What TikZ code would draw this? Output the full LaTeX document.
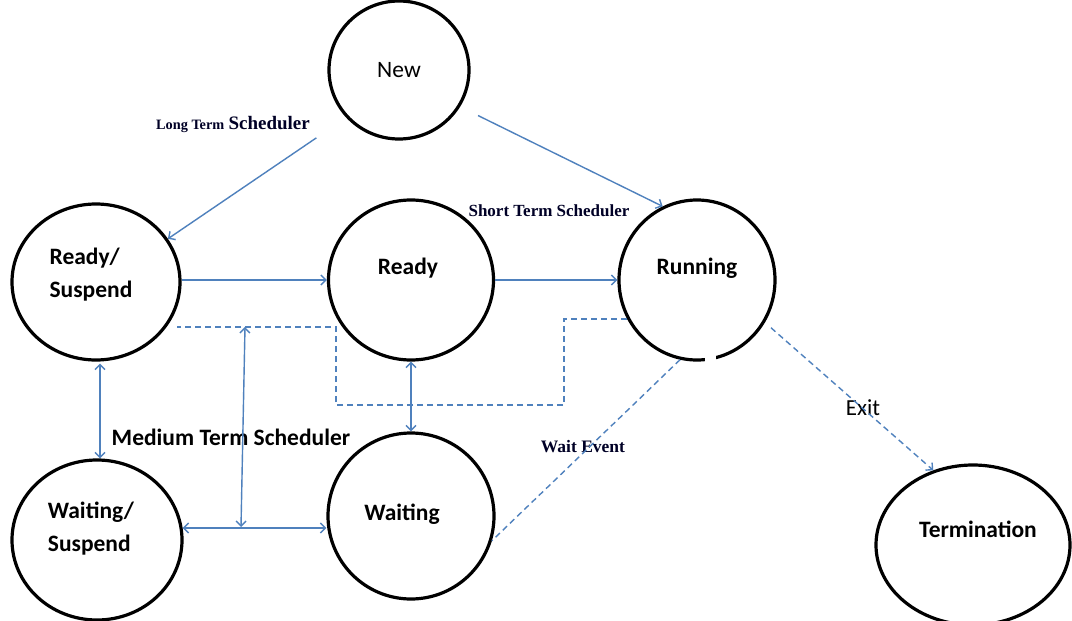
\documentclass[tikz,border=0pt]{standalone}
\usepackage{fontspec}
\setmainfont{Liberation Serif}
\newfontfamily\carl{Carlito}
\usetikzlibrary{shapes.geometric,arrows.meta}
\definecolor{lineblue}{HTML}{4F81BD}
\begin{document}
\begin{tikzpicture}[x=1pt,y=-1pt,
  >={Straight Barb[length=5pt,width=10pt]},
  state/.style={ellipse,draw=black,line width=3.2pt,inner sep=0pt},
  stext/.style={font=\carl\bfseries\fontsize{23.5}{33}\selectfont,align=left},
  conn/.style={draw=lineblue,line width=1.4pt},
  dline/.style={conn,dash pattern=on 6pt off 4pt},
  serifl/.style={font=\bfseries\fontsize{17}{20}\selectfont,text=black!85!blue},
]
\useasboundingbox (0,0) rectangle (1072,621);
\fill[white] (0,0) rectangle (1072,621);
\clip (0,0) rectangle (1072,621);

% states
\node[state,minimum width=140pt,minimum height=138pt,
  label={[font=\carl\fontsize{23.5}{28}\selectfont]center:New}] (new) at (399,70) {};
\node[state,minimum width=168pt,minimum height=156pt,
  label={[stext,xshift=-5pt,yshift=7pt]center:Ready/\\Suspend}] (rs) at (96,282) {};
\node[state,minimum width=165pt,minimum height=160pt,
  label={[stext,xshift=-3pt,yshift=12pt]center:Ready}] (rd) at (411,280) {};
\node[state,minimum width=156pt,minimum height=160pt,
  label={[stext,yshift=12pt]center:Running}] (run) at (697,280) {};
\node[state,minimum width=170pt,minimum height=160pt,
  label={[stext,xshift=-6pt,yshift=11pt]center:Waiting/\\Suspend}] (ws) at (97,540) {};
\node[state,minimum width=166pt,minimum height=166pt,
  label={[stext,xshift=-9pt,yshift=2pt]center:Waiting}] (wt) at (411,516) {};
\node[state,minimum width=194pt,minimum height=160pt,
  label={[stext,xshift=5pt,yshift=16pt]center:Termination}] (term) at (973,545) {};

% gap in the Running circle
\fill[white] (705,350) rectangle (716,366);

% texts
\node[serifl] (lts) at (233,124) {{\fontsize{14.3}{17}\selectfont Long Term} {\fontsize{19}{22}\selectfont Scheduler}};
\node[serifl] (sts) at (549,211) {Short Term Scheduler};
\node[font=\carl\bfseries\fontsize{23.5}{28}\selectfont] (mts) at (231,437) {Medium Term Scheduler};
\node[serifl,font=\bfseries\fontsize{17.5}{20}\selectfont] (we) at (583,447) {Wait Event};
\node[font=\carl\fontsize{23}{27}\selectfont] (ex) at (863,408) {Exit};

% connectors
\draw[conn,->,shorten <=36pt] (new.222) -- (rs.31);
\draw[conn,->,shorten <=20pt] (new.-31) -- (run.115);
\draw[conn,->] (rs.east |- rd.west) -- (rd.west);
\draw[conn,->] (rd.east) -- (run.west);
\draw[conn,<->] (rs.south) ++(4,2) coordinate (a1) -- (a1 |- ws.north);
\draw[conn,<->] (ws.8) -- (ws.8 -| wt.west);
\coordinate (m1) at (241,527);
\coordinate (m2) at (245,327);
\draw[conn,<->] (m1) -- (m2);
\draw[conn,<->] (rd.south) -- (wt.north);
\coordinate (d0) at (177,327);
\draw[dline] (run.209) -| (564,405) -- (336,405) |- (d0);
\draw[dline] (run.258) -- (wt.-17);
\draw[dline,->,shorten <=8pt] (run.-32) -- (term.118);
\end{tikzpicture}
\end{document}
